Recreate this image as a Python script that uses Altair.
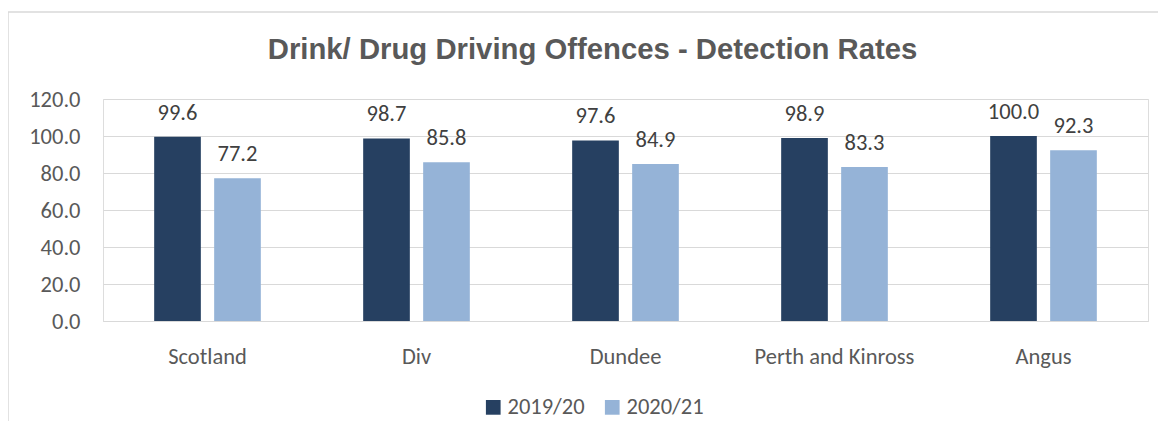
import altair as alt
import pandas as pd

categories = ["Scotland", "Div", "Dundee", "Perth and Kinross", "Angus"]
series = ["2019/20", "2020/21"]
values_2019 = [99.6, 98.7, 97.6, 98.9, 100.0]
values_2020 = [77.2, 85.8, 84.9, 83.3, 92.3]
colors = ["#264061", "#95B3D7"]

rows = []
for c, a, b in zip(categories, values_2019, values_2020):
    rows.append({"Area": c, "Year": series[0], "Rate": a})
    rows.append({"Area": c, "Year": series[1], "Rate": b})
df = pd.DataFrame(rows)

FONT = "Calibri, Carlito, Open Sans"
GREY = "#595959"
FS = 22.5

x = alt.X("Area:N", sort=categories, title=None,
          scale=alt.Scale(paddingInner=0, paddingOuter=0),
          axis=alt.Axis(labelAngle=0, ticks=False, domainColor="#d9d9d9",
                        labelPadding=24, labelFontSize=FS, labelColor=GREY,
                        labelFont=FONT))
xo = alt.XOffset("Year:N", sort=series,
                 scale=alt.Scale(paddingInner=0.222, paddingOuter=0.853))
y = alt.Y("Rate:Q", title=None,
          scale=alt.Scale(domain=[0, 120], nice=False),
          axis=alt.Axis(values=[0, 20, 40, 60, 80, 100, 120], format=".1f",
                        domain=False, ticks=False, labelPadding=23,
                        labelFontSize=FS, labelColor=GREY, labelFont=FONT,
                        gridColor="#d9d9d9", gridWidth=1))

base = alt.Chart(df)
bars = base.mark_bar().encode(
    x=x, xOffset=xo, y=y,
    color=alt.Color("Year:N", sort=series,
                    scale=alt.Scale(domain=series, range=colors),
                    legend=alt.Legend(title=None, orient="none", direction="horizontal",
                                      legendX=379, legendY=297, symbolType="square",
                                      symbolSize=216, symbolStrokeWidth=0,
                                      labelFontSize=FS, labelColor=GREY, labelFont=FONT,
                                      labelOffset=3, columnPadding=16, padding=0)),
)
labels = base.mark_text(baseline="middle", dy=-24, fontSize=FS, color="#404040",
                        font=FONT).encode(
    x=x, xOffset=xo, y=y, text=alt.Text("Rate:Q", format=".1f"))

border = alt.Chart(alt.Data(values=[{}])).mark_rect(
    fillOpacity=0, stroke="#d9d9d9", strokeWidth=1.5).encode(
    x=alt.value(-95), x2=alt.value(1100), y=alt.value(-87), y2=alt.value(500))

chart = alt.layer(border, bars, labels).properties(
    width=1045, height=222,
    title=alt.TitleParams("Drink/ Drug Driving Offences - Detection Rates",
                          font="Liberation Sans", fontSize=29.3, fontWeight="bold",
                          color=GREY, anchor="middle", dx=-33, baseline="alphabetic",
                          offset=-77),
    padding={"left": 95, "top": 91, "right": 10, "bottom": 100},
    autosize=alt.AutoSizeParams(type="none"),
).configure_view(stroke="transparent", strokeWidth=0).configure(background="white")

chart.save("out.html", embed_options={"renderer": "svg", "actions": False})
